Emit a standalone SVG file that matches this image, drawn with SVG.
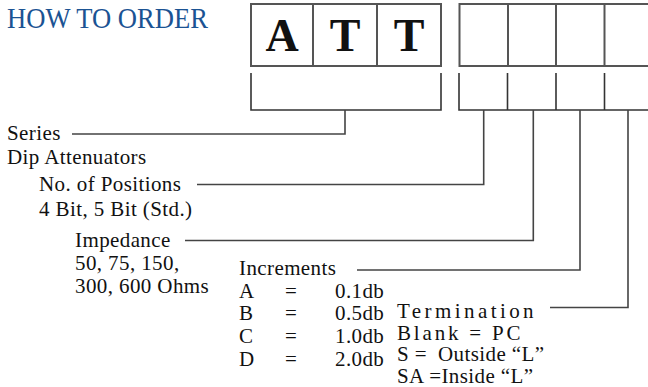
<svg xmlns="http://www.w3.org/2000/svg" width="648" height="387" viewBox="0 0 648 387">
<style>
.t{font-family:"Liberation Serif","Times New Roman",serif;font-size:21px;letter-spacing:0.4px;fill:#111}
.h{font-family:"Liberation Serif","Times New Roman",serif;font-size:30px;fill:#1b5393}
.b{font-family:"Liberation Serif","Times New Roman",serif;font-size:46px;font-weight:bold;fill:#111;text-anchor:middle}
.box{fill:none;stroke:#555;stroke-width:2}
.br{fill:none;stroke:#333;stroke-width:1.6}
.c{fill:none;stroke:#444;stroke-width:1.6}
</style>
<rect width="648" height="387" fill="#fff"/>
<text class="h" x="7" y="28" textLength="201" lengthAdjust="spacingAndGlyphs">HOW TO ORDER</text>
<g id="att-box">
<rect class="box" x="251" y="4" width="190" height="62"/>
<line class="box" x1="313" y1="4" x2="313" y2="66"/>
<line class="box" x1="377" y1="4" x2="377" y2="66"/>
<text class="b" x="282" y="51">A</text>
<text class="b" x="345" y="51">T</text>
<text class="b" x="409" y="51">T</text>
</g>
<g id="option-box">
<rect class="box" x="459.5" y="4" width="194" height="62"/>
<line class="box" x1="508" y1="4" x2="508" y2="66"/>
<line class="box" x1="556" y1="4" x2="556" y2="66"/>
<line class="box" x1="604.5" y1="4" x2="604.5" y2="66"/>
</g>
<g id="att-bracket">
<path class="br" d="M251,73 V110 H441 V73"/>
</g>
<g id="option-bracket">
<path class="br" d="M459,73 V110 H650"/>
<line class="br" x1="507.5" y1="73" x2="507.5" y2="110"/>
<line class="br" x1="556" y1="73" x2="556" y2="110"/>
<line class="br" x1="604.5" y1="73" x2="604.5" y2="110"/>
</g>
<g id="connectors">
<path class="c" d="M345,110 V134 H72"/>
<path class="c" d="M483.7,110 V184.5 H197"/>
<path class="c" d="M533.3,110 V240.5 H185"/>
<path class="c" d="M580,110 V270 H357"/>
<path class="c" d="M628,110 V307.5 H550"/>
</g>
<g id="series">
<text class="t" x="7" y="140">Series</text>
<text class="t" x="7" y="164">Dip Attenuators</text>
</g>
<g id="positions">
<text class="t" x="39" y="191">No. of Positions</text>
<text class="t" x="39" y="216">4 Bit, 5 Bit (Std.)</text>
</g>
<g id="impedance">
<text class="t" x="75" y="247">Impedance</text>
<text class="t" x="75" y="270">50, 75, 150,</text>
<text class="t" x="75" y="293">300, 600 Ohms</text>
</g>
<g id="increments">
<text class="t" x="239" y="275">Increments</text>
<text class="t" x="239" y="298">A</text><text class="t" x="285" y="298">=</text><text class="t" x="335" y="298">0.1db</text>
<text class="t" x="239" y="320">B</text><text class="t" x="285" y="320">=</text><text class="t" x="335" y="320">0.5db</text>
<text class="t" x="239" y="343">C</text><text class="t" x="285" y="343">=</text><text class="t" x="335" y="343">1.0db</text>
<text class="t" x="239" y="366">D</text><text class="t" x="285" y="366">=</text><text class="t" x="335" y="366">2.0db</text>
</g>
<g id="termination">
<text class="t" x="397" y="318" textLength="137">Termination</text>
<text class="t" x="397" y="339.5" textLength="124">Blank = PC</text>
<text class="t" x="397" y="361">S =<tspan x="438">Outside “L”</tspan></text>
<text class="t" x="397" y="382.5">SA =Inside “L”</text>
</g>
</svg>
